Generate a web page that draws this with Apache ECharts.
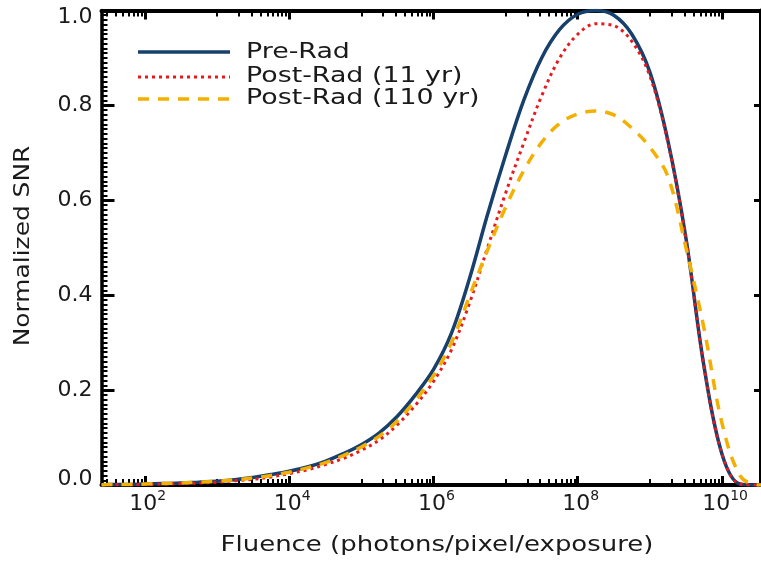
<!DOCTYPE html>
<html>
<head>
<meta charset="utf-8">
<script src="https://cdn.jsdelivr.net/npm/echarts@6/dist/echarts.min.js"></script>
<style>html,body{margin:0;padding:0;background:#fff}#c{width:761px;height:561px}</style>
</head>
<body>
<div id="c"></div>
<script>
// log10(fluence) sample positions
const logFluence = [1.4, 1.5, 1.75, 2.0, 2.25, 2.5, 2.75, 3.0, 3.25, 3.5, 3.75, 4.0, 4.25, 4.5, 4.75, 5.0, 5.25, 5.5, 5.75, 6.0, 6.25, 6.5, 6.75, 7.0, 7.25, 7.5, 7.75, 8.0, 8.25, 8.5, 8.75, 9.0, 9.25, 9.5, 9.75, 10.0, 10.25, 10.5, 10.54];
const preRad = [0.000, 0.001, 0.001, 0.002, 0.003, 0.004, 0.006, 0.008, 0.011, 0.016, 0.022, 0.029, 0.038, 0.050, 0.066, 0.085, 0.110, 0.145, 0.190, 0.243, 0.320, 0.435, 0.570, 0.695, 0.810, 0.900, 0.960, 0.992, 1.000, 0.990, 0.950, 0.870, 0.725, 0.520, 0.250, 0.065, 0.002, 0.000, 0.000];
const postRad11 = [0.000, 0.000, 0.001, 0.001, 0.002, 0.003, 0.004, 0.006, 0.009, 0.012, 0.017, 0.024, 0.032, 0.043, 0.056, 0.073, 0.095, 0.127, 0.168, 0.218, 0.285, 0.383, 0.500, 0.615, 0.720, 0.820, 0.900, 0.950, 0.972, 0.968, 0.935, 0.862, 0.722, 0.518, 0.250, 0.065, 0.002, 0.000, 0.000];
const postRad110 = [0.000, 0.001, 0.001, 0.002, 0.003, 0.004, 0.006, 0.008, 0.011, 0.015, 0.020, 0.027, 0.036, 0.047, 0.062, 0.080, 0.103, 0.135, 0.178, 0.230, 0.300, 0.398, 0.495, 0.585, 0.662, 0.722, 0.762, 0.782, 0.788, 0.780, 0.752, 0.712, 0.650, 0.500, 0.330, 0.130, 0.020, 0.000, 0.000];
const seriesNames = ['Pre-Rad', 'Post-Rad (11 yr)', 'Post-Rad (110 yr)'];
const xMajorExponents = [2, 4, 6, 8, 10];
const yTicks = [0.0, 0.2, 0.4, 0.6, 0.8, 1.0];
const xMinLog = 1.4, xMaxLog = 10.54;
const xTitle = 'Fluence (photons/pixel/exposure)';
const yTitle = 'Normalized SNR';

const FONT = 'DejaVu Sans';
const TXT = '#1a1a1a';
const xMin = Math.pow(10, xMinLog), xMax = Math.pow(10, xMaxLog);
const xMajor = xMajorExponents.map(e => Math.pow(10, e));
const xMinor = [];
[1, 3, 5, 7, 9].forEach(n => { for (let k = 1; k <= 9; k++) { const v = k * Math.pow(10, n); if (v > xMin && v < xMax) xMinor.push(v); } });
const toPairs = arr => logFluence.map((e, i) => [Math.pow(10, e), arr[i]]);

const colors = ['#17406d', '#e8191c', '#f4b000'];
const styles = [
  { width: 3.5, type: 'solid' },
  { width: 3, type: [3, 4] },
  { width: 3.5, type: [11, 9] }
];

function xAxisDef(pos, major, withLabels) {
  return {
    type: 'log', logBase: 10, min: xMin, max: xMax, position: pos, gridIndex: 0,
    axisLine: { show: major, onZero: false, lineStyle: { color: '#000', width: 4 } },
    axisTick: { show: true, inside: true, length: major ? 9 : 6, customValues: major ? xMajor : xMinor, lineStyle: { color: '#000', width: major ? 3 : 2 } },
    minorTick: { show: false },
    splitLine: { show: false },
    axisLabel: withLabels ? {
      show: true, customValues: xMajor, margin: 4,
      formatter: v => '{b|10}{s|' + Math.round(Math.log10(v)) + '}',
      rich: {
        b: { fontSize: 22, fontFamily: FONT, color: TXT, lineHeight: 30, padding: [0, 0, 0, 6] },
        s: { fontSize: 14, fontFamily: FONT, color: TXT, verticalAlign: 'top', lineHeight: 30, padding: [0, 0, 14, 0] }
      }
    } : { show: false, customValues: xMajor }
  };
}

const chart = echarts.init(document.getElementById('c'), null, { renderer: 'canvas' });
const yMin = yTicks[0], yMax = yTicks[yTicks.length - 1];
const lineSeries = [preRad, postRad11, postRad110].map((arr, i) => ({
  name: seriesNames[i], type: 'line', xAxisIndex: 0, yAxisIndex: 0,
  data: toPairs(arr), showSymbol: false, symbol: 'none', smooth: 0.35,
  lineStyle: { color: colors[i], width: styles[i].width, type: styles[i].type },
  itemStyle: { color: colors[i] },
  z: 3 + i
}));

const option = {
  backgroundColor: '#fff',
  animation: false,
  grid: { left: 101.5, right: -2, top: 10.5, bottom: 76, containLabel: false },
  xAxis: [
    xAxisDef('bottom', true, true),
    xAxisDef('bottom', false, false),
    xAxisDef('top', true, false),
    xAxisDef('top', false, false)
  ],
  yAxis: [
    {
      type: 'value', min: yMin, max: yMax, interval: 0.2, position: 'left',
      axisLine: { show: true, onZero: false, lineStyle: { color: '#000', width: 3.5 } },
      axisTick: { show: true, inside: true, length: 13, lineStyle: { color: '#000', width: 3 } },
      minorTick: { show: true, splitNumber: 20, length: 6, lineStyle: { color: '#000', width: 2 } },
      splitLine: { show: false },
      axisLabel: {
        margin: 9, color: TXT, fontSize: 22, fontFamily: FONT,
        formatter: v => {
          const t = v.toFixed(1);
          if (v >= 0.999) return '{top|' + t + '}';
          if (v <= 0.001) return '{bot|' + t + '}';
          return t;
        },
        rich: {
          top: { fontSize: 22, fontFamily: FONT, color: TXT, padding: [13, 0, 0, 0] },
          bot: { fontSize: 22, fontFamily: FONT, color: TXT, padding: [0, 0, 11, 0] }
        }
      }
    },
    {
      type: 'value', min: yMin, max: yMax, interval: 0.2, position: 'right',
      axisLine: { show: true, onZero: false, lineStyle: { color: '#000', width: 4 } },
      axisTick: { show: true, inside: true, length: 7, lineStyle: { color: '#000', width: 3 } },
      splitLine: { show: false },
      axisLabel: { show: false }
    }
  ],
  series: lineSeries,
  graphic: [
    ...seriesNames.map((n, i) => ({
      type: 'line', z: 100,
      shape: { x1: 138, y1: [52, 77, 99][i], x2: 230, y2: [52, 77, 99][i] },
      style: { stroke: colors[i], lineWidth: styles[i].width, lineDash: Array.isArray(styles[i].type) ? styles[i].type : null }
    })),
    ...seriesNames.map((n, i) => ({
      type: 'text', z: 100, x: 246, y: [52, 76, 98][i], scaleX: 1.22,
      style: { text: n, fontSize: 22, fontFamily: FONT, fill: TXT, align: 'left', verticalAlign: 'middle', textAlign: 'left', textVerticalAlign: 'middle' }
    })),
    {
      type: 'text', z: 100, x: 437, y: 545, scaleX: 1.18,
      style: { text: xTitle, fontSize: 22, fontFamily: FONT, fill: TXT, align: 'center', verticalAlign: 'middle', textAlign: 'center', textVerticalAlign: 'middle' }
    },
    {
      type: 'text', z: 100, x: 23, y: 246, rotation: Math.PI / 2, scaleX: 1.13,
      style: { text: yTitle, fontSize: 22, fontFamily: FONT, fill: TXT, align: 'center', verticalAlign: 'middle', textAlign: 'center', textVerticalAlign: 'middle' }
    }
  ]
};
chart.setOption(option);
</script>
</body>
</html>
